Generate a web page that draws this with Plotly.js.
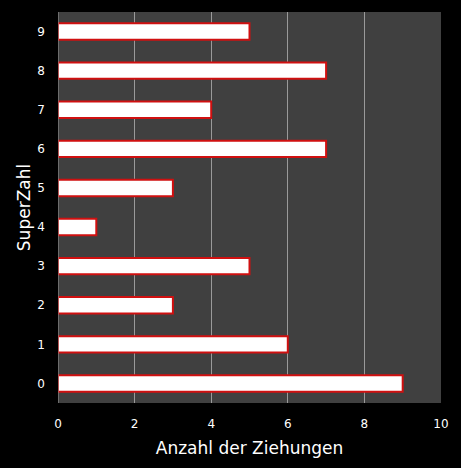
<!DOCTYPE html>
<html>
<head>
<meta charset="utf-8">
<script src="https://cdn.plot.ly/plotly-3.0.1.min.js"></script>
<style>
  html, body { margin: 0; padding: 0; background: #000; }
  #chart { width: 461px; height: 468px; }
</style>
</head>
<body>
<div id="chart"></div>
<script>
// SuperZahl und wie oft sie gezogen wurde
let superzahlen = ['0', '1', '2', '3', '4', '5', '6', '7', '8', '9'];
let ziehungen = [9, 6, 3, 5, 1, 3, 7, 4, 7, 5];
let xTicks = [0, 2, 4, 6, 8, 10];

let trace = {
    type: 'bar',
    orientation: 'h',
    x: ziehungen,
    y: superzahlen,
    width: 0.42,
    marker: {
        color: '#ffffff',
        line: { color: '#d01010', width: 2 }
    },
    hoverinfo: 'x+y',
};

let layout = {
    width: 461,
    height: 468,
    margin: { l: 58, r: 20, t: 12, b: 65 },
    paper_bgcolor: '#000000',
    plot_bgcolor: '#404040',
    font: { family: 'DejaVu Sans, Verdana, sans-serif', color: '#ffffff', size: 12 },
    showlegend: false,
    xaxis: {
        range: [0, 10],
        tickvals: xTicks,
        ticktext: xTicks.map(String),
        showgrid: true,
        gridcolor: '#9a9a9a',
        gridwidth: 1,
        zeroline: false,
        showline: false,
        ticks: '',
        ticklabelstandoff: 12,
        title: { text: 'Anzahl der Ziehungen', font: { size: 17, color: '#ffffff' }, standoff: 12 },
    },
    yaxis: {
        type: 'category',
        showgrid: false,
        zeroline: false,
        showline: false,
        ticks: '',
        ticklabelstandoff: 12,
        title: { text: 'SuperZahl', font: { size: 17, color: '#ffffff' }, standoff: 2 },
    },
    shapes: [{
        type: 'line', xref: 'x', yref: 'paper',
        x0: 0, x1: 0, y0: 0, y1: 1,
        line: { color: '#9a9a9a', width: 1 }
    }],
};

Plotly.newPlot('chart', [trace], layout, { displayModeBar: false, staticPlot: true });
</script>
</body>
</html>
